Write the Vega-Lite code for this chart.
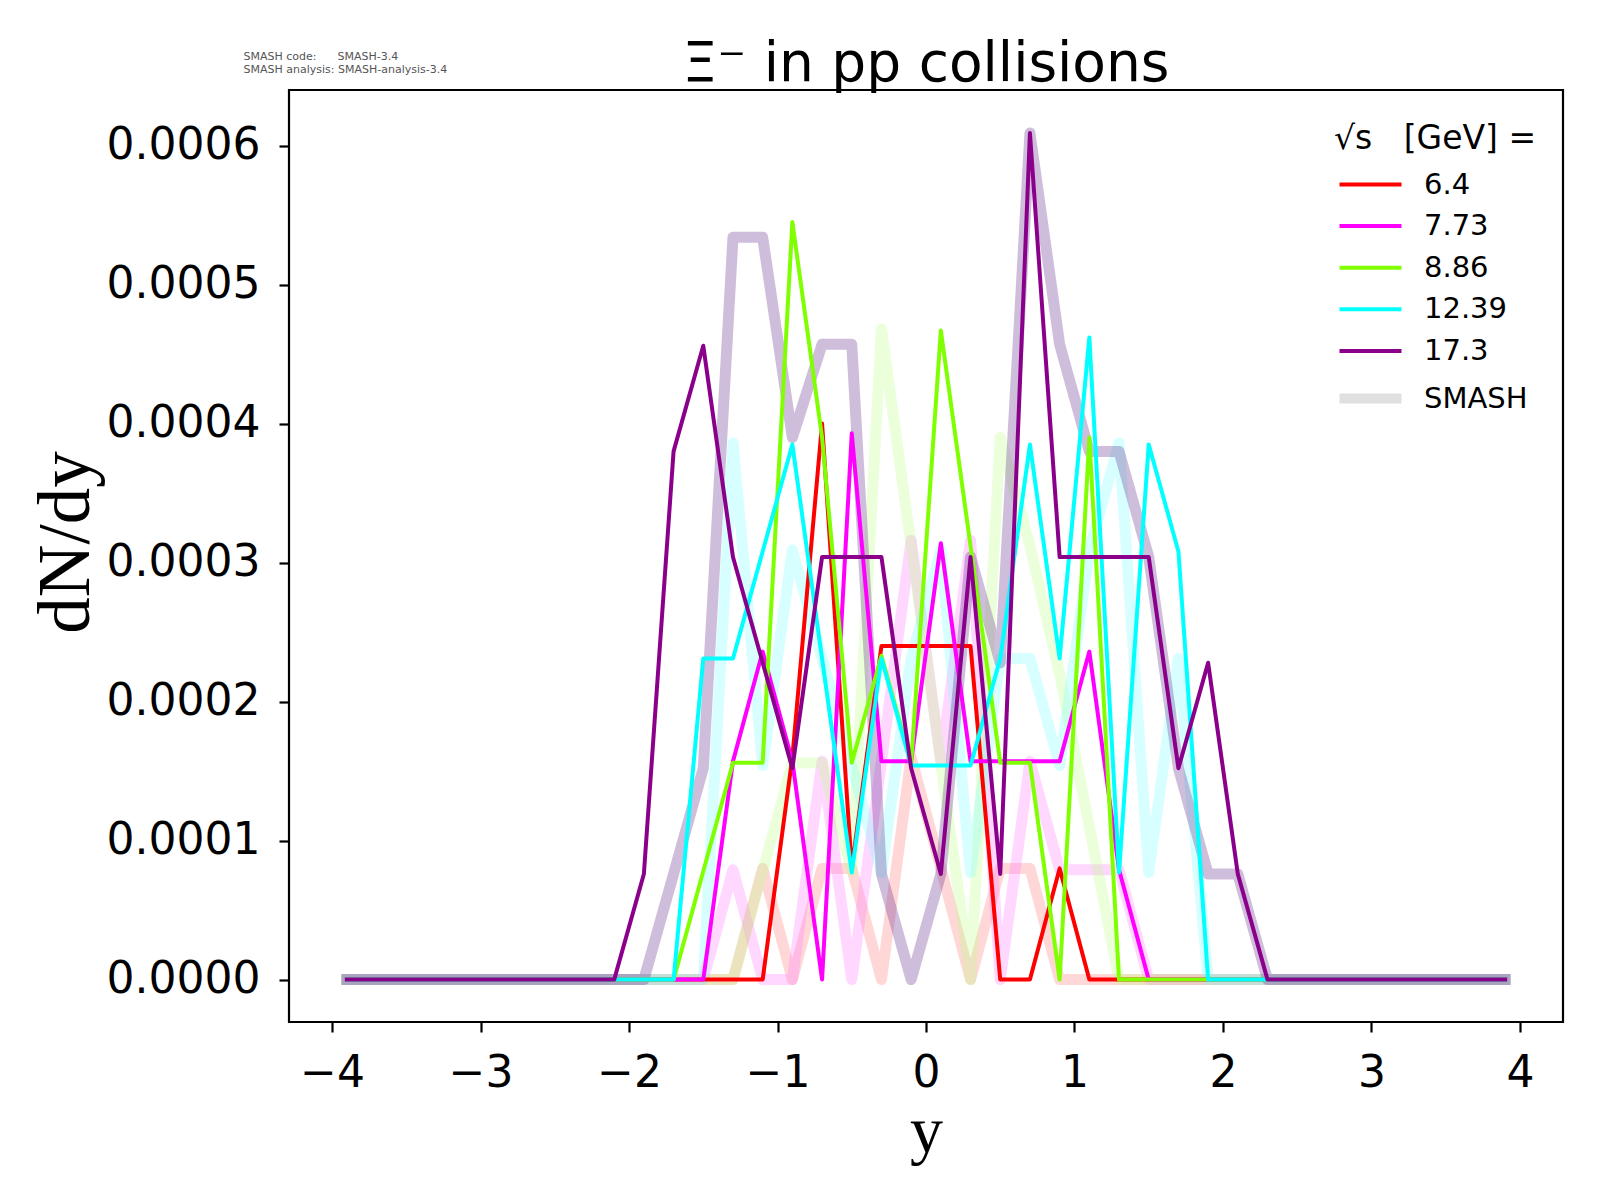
{
  "$schema": "https://vega.github.io/schema/vega-lite/v6.json",
  "width": 1274,
  "height": 932,
  "autosize": "none",
  "padding": {"left": 289, "top": 90, "right": 37, "bottom": 178},
  "background": "white",
  "title": {"text": "Ξ⁻ in pp collisions", "font": "DejaVu Sans", "fontSize": 55, "fontWeight": "normal", "color": "black", "offset": -43},
  "data": {
    "values": [
      {"rap": -3.9, "E6_4": 0, "E7_73": 0, "E8_86": 0, "E12_39": 0, "E17_3": 0, "S6_4": 0, "S7_73": 0, "S8_86": 0, "S12_39": 0, "S17_3": 0},
      {"rap": -3.7, "E6_4": 0, "E7_73": 0, "E8_86": 0, "E12_39": 0, "E17_3": 0, "S6_4": 0, "S7_73": 0, "S8_86": 0, "S12_39": 0, "S17_3": 0},
      {"rap": -3.5, "E6_4": 0, "E7_73": 0, "E8_86": 0, "E12_39": 0, "E17_3": 0, "S6_4": 0, "S7_73": 0, "S8_86": 0, "S12_39": 0, "S17_3": 0},
      {"rap": -3.3, "E6_4": 0, "E7_73": 0, "E8_86": 0, "E12_39": 0, "E17_3": 0, "S6_4": 0, "S7_73": 0, "S8_86": 0, "S12_39": 0, "S17_3": 0},
      {"rap": -3.1, "E6_4": 0, "E7_73": 0, "E8_86": 0, "E12_39": 0, "E17_3": 0, "S6_4": 0, "S7_73": 0, "S8_86": 0, "S12_39": 0, "S17_3": 0},
      {"rap": -2.9, "E6_4": 0, "E7_73": 0, "E8_86": 0, "E12_39": 0, "E17_3": 0, "S6_4": 0, "S7_73": 0, "S8_86": 0, "S12_39": 0, "S17_3": 0},
      {"rap": -2.7, "E6_4": 0, "E7_73": 0, "E8_86": 0, "E12_39": 0, "E17_3": 0, "S6_4": 0, "S7_73": 0, "S8_86": 0, "S12_39": 0, "S17_3": 0},
      {"rap": -2.5, "E6_4": 0, "E7_73": 0, "E8_86": 0, "E12_39": 0, "E17_3": 0, "S6_4": 0, "S7_73": 0, "S8_86": 0, "S12_39": 0, "S17_3": 0},
      {"rap": -2.3, "E6_4": 0, "E7_73": 0, "E8_86": 0, "E12_39": 0, "E17_3": 0, "S6_4": 0, "S7_73": 0, "S8_86": 0, "S12_39": 0, "S17_3": 0},
      {"rap": -2.1, "E6_4": 0, "E7_73": 0, "E8_86": 0, "E12_39": 0, "E17_3": 0, "S6_4": 0, "S7_73": 0, "S8_86": 0, "S12_39": 0, "S17_3": 0},
      {"rap": -1.9, "E6_4": 0, "E7_73": 0, "E8_86": 0, "E12_39": 0, "E17_3": 0.000076, "S6_4": 0, "S7_73": 0, "S8_86": 0, "S12_39": 0, "S17_3": 0},
      {"rap": -1.7, "E6_4": 0, "E7_73": 0, "E8_86": 0, "E12_39": 0, "E17_3": 0.00038, "S6_4": 0, "S7_73": 0, "S8_86": 0, "S12_39": 0, "S17_3": 0.000076},
      {"rap": -1.5, "E6_4": 0, "E7_73": 0, "E8_86": 0.000078, "E12_39": 0.000231, "E17_3": 0.000456, "S6_4": 0, "S7_73": 0, "S8_86": 0, "S12_39": 0, "S17_3": 0.000152},
      {"rap": -1.3, "E6_4": 0, "E7_73": 0.000157, "E8_86": 0.000156, "E12_39": 0.000231, "E17_3": 0.000304, "S6_4": 0, "S7_73": 0.000079, "S8_86": 0, "S12_39": 0.000386, "S17_3": 0.000534},
      {"rap": -1.1, "E6_4": 0, "E7_73": 0.000236, "E8_86": 0.000156, "E12_39": 0.000308, "E17_3": 0.000228, "S6_4": 0.00008, "S7_73": 0, "S8_86": 0.000078, "S12_39": 0.000154, "S17_3": 0.000534},
      {"rap": -0.9, "E6_4": 0.00016, "E7_73": 0.000157, "E8_86": 0.000545, "E12_39": 0.000385, "E17_3": 0.000152, "S6_4": 0, "S7_73": 0, "S8_86": 0.000156, "S12_39": 0.000309, "S17_3": 0.00039},
      {"rap": -0.7, "E6_4": 0.0004, "E7_73": 0, "E8_86": 0.00039, "E12_39": 0.000231, "E17_3": 0.000304, "S6_4": 0.00008, "S7_73": 0.000157, "S8_86": 0.000156, "S12_39": 0.000231, "S17_3": 0.000457},
      {"rap": -0.5, "E6_4": 0.00008, "E7_73": 0.000393, "E8_86": 0.000156, "E12_39": 0.000077, "E17_3": 0.000304, "S6_4": 0.00008, "S7_73": 0, "S8_86": 0.000078, "S12_39": 0.000154, "S17_3": 0.000457},
      {"rap": -0.3, "E6_4": 0.00024, "E7_73": 0.000157, "E8_86": 0.000233, "E12_39": 0.000231, "E17_3": 0.000304, "S6_4": 0, "S7_73": 0.000157, "S8_86": 0.000468, "S12_39": 0.000077, "S17_3": 0.000076},
      {"rap": -0.1, "E6_4": 0.00024, "E7_73": 0.000157, "E8_86": 0.000156, "E12_39": 0.000154, "E17_3": 0.000152, "S6_4": 0.00016, "S7_73": 0.000316, "S8_86": 0.000312, "S12_39": 0.000231, "S17_3": 0},
      {"rap": 0.1, "E6_4": 0.00024, "E7_73": 0.000314, "E8_86": 0.000467, "E12_39": 0.000154, "E17_3": 0.000076, "S6_4": 0.00008, "S7_73": 0.000157, "S8_86": 0.000156, "S12_39": 0.000309, "S17_3": 0.000076},
      {"rap": 0.3, "E6_4": 0.00024, "E7_73": 0.000157, "E8_86": 0.000312, "E12_39": 0.000154, "E17_3": 0.000304, "S6_4": 0, "S7_73": 0.000316, "S8_86": 0, "S12_39": 0.000077, "S17_3": 0.000304},
      {"rap": 0.5, "E6_4": 0, "E7_73": 0.000157, "E8_86": 0.000156, "E12_39": 0.000231, "E17_3": 0.000076, "S6_4": 0.00008, "S7_73": 0, "S8_86": 0.00039, "S12_39": 0.000231, "S17_3": 0.000228},
      {"rap": 0.7, "E6_4": 0, "E7_73": 0.000157, "E8_86": 0.000156, "E12_39": 0.000385, "E17_3": 0.000609, "S6_4": 0.00008, "S7_73": 0.000157, "S8_86": 0.000312, "S12_39": 0.000231, "S17_3": 0.000609},
      {"rap": 0.9, "E6_4": 0.00008, "E7_73": 0.000157, "E8_86": 0, "E12_39": 0.000231, "E17_3": 0.000304, "S6_4": 0, "S7_73": 0.000079, "S8_86": 0.00022, "S12_39": 0.000154, "S17_3": 0.000457},
      {"rap": 1.1, "E6_4": 0, "E7_73": 0.000236, "E8_86": 0.00039, "E12_39": 0.000462, "E17_3": 0.000304, "S6_4": 0, "S7_73": 0.000079, "S8_86": 0.00011, "S12_39": 0.000309, "S17_3": 0.00038},
      {"rap": 1.3, "E6_4": 0, "E7_73": 0.000079, "E8_86": 0, "E12_39": 0.000077, "E17_3": 0.000304, "S6_4": 0, "S7_73": 0.000079, "S8_86": 0, "S12_39": 0.000386, "S17_3": 0.00038},
      {"rap": 1.5, "E6_4": 0, "E7_73": 0, "E8_86": 0, "E12_39": 0.000385, "E17_3": 0.000304, "S6_4": 0, "S7_73": 0, "S8_86": 0, "S12_39": 0.000077, "S17_3": 0.000304},
      {"rap": 1.7, "E6_4": 0, "E7_73": 0, "E8_86": 0, "E12_39": 0.000308, "E17_3": 0.000152, "S6_4": 0, "S7_73": 0, "S8_86": 0, "S12_39": 0.000231, "S17_3": 0.000152},
      {"rap": 1.9, "E6_4": 0, "E7_73": 0, "E8_86": 0, "E12_39": 0, "E17_3": 0.000228, "S6_4": 0, "S7_73": 0, "S8_86": 0, "S12_39": 0, "S17_3": 0.000076},
      {"rap": 2.1, "E6_4": 0, "E7_73": 0, "E8_86": 0, "E12_39": 0, "E17_3": 0.000076, "S6_4": 0, "S7_73": 0, "S8_86": 0, "S12_39": 0, "S17_3": 0.000076},
      {"rap": 2.3, "E6_4": 0, "E7_73": 0, "E8_86": 0, "E12_39": 0, "E17_3": 0, "S6_4": 0, "S7_73": 0, "S8_86": 0, "S12_39": 0, "S17_3": 0},
      {"rap": 2.5, "E6_4": 0, "E7_73": 0, "E8_86": 0, "E12_39": 0, "E17_3": 0, "S6_4": 0, "S7_73": 0, "S8_86": 0, "S12_39": 0, "S17_3": 0},
      {"rap": 2.7, "E6_4": 0, "E7_73": 0, "E8_86": 0, "E12_39": 0, "E17_3": 0, "S6_4": 0, "S7_73": 0, "S8_86": 0, "S12_39": 0, "S17_3": 0},
      {"rap": 2.9, "E6_4": 0, "E7_73": 0, "E8_86": 0, "E12_39": 0, "E17_3": 0, "S6_4": 0, "S7_73": 0, "S8_86": 0, "S12_39": 0, "S17_3": 0},
      {"rap": 3.1, "E6_4": 0, "E7_73": 0, "E8_86": 0, "E12_39": 0, "E17_3": 0, "S6_4": 0, "S7_73": 0, "S8_86": 0, "S12_39": 0, "S17_3": 0},
      {"rap": 3.3, "E6_4": 0, "E7_73": 0, "E8_86": 0, "E12_39": 0, "E17_3": 0, "S6_4": 0, "S7_73": 0, "S8_86": 0, "S12_39": 0, "S17_3": 0},
      {"rap": 3.5, "E6_4": 0, "E7_73": 0, "E8_86": 0, "E12_39": 0, "E17_3": 0, "S6_4": 0, "S7_73": 0, "S8_86": 0, "S12_39": 0, "S17_3": 0},
      {"rap": 3.7, "E6_4": 0, "E7_73": 0, "E8_86": 0, "E12_39": 0, "E17_3": 0, "S6_4": 0, "S7_73": 0, "S8_86": 0, "S12_39": 0, "S17_3": 0},
      {"rap": 3.9, "E6_4": 0, "E7_73": 0, "E8_86": 0, "E12_39": 0, "E17_3": 0, "S6_4": 0, "S7_73": 0, "S8_86": 0, "S12_39": 0, "S17_3": 0}
    ]
  },
  "layer": [
    {
      "transform": [{"fold": ["S6_4", "S7_73", "S8_86", "S12_39", "S17_3"], "as": ["run", "dndy"]}],
      "mark": {"type": "line", "strokeWidth": 11, "opacity": 0.3, "strokeJoin": "round", "strokeCap": "square"},
      "encoding": {
        "x": {"field": "rap", "type": "quantitative", "scale": {"domain": [-4.29, 4.29], "nice": false, "zero": false}, "axis": null},
        "y": {"field": "dndy", "type": "quantitative", "scale": {"domain": [-0.0000305, 0.00064], "nice": false, "zero": false},
              "axis": {"title": "dN/dy", "values": [0, 0.0001, 0.0002, 0.0003, 0.0004, 0.0005, 0.0006], "format": ".4f", "labelPadding": 19, "titlePadding": 3, "titleFontSize": 73, "titleY": 452}},
        "stroke": {"field": "run", "type": "nominal", "legend": null,
                   "scale": {"domain": ["S6_4", "S7_73", "S8_86", "S12_39", "S17_3"], "range": ["#ff7a7a", "#ff7aff", "#bcff84", "#7affff", "#5f268a"]}}
      }
    },
    {
      "transform": [{"fold": ["E6_4", "E7_73", "E8_86", "E12_39", "E17_3"], "as": ["run", "dndy"]}],
      "mark": {"type": "line", "strokeWidth": 4, "strokeJoin": "round", "strokeCap": "square"},
      "encoding": {
        "x": {"field": "rap", "type": "quantitative", "scale": {"domain": [-4.29, 4.29], "nice": false, "zero": false},
              "axis": {"title": "y", "values": [-4, -3, -2, -1, 0, 1, 2, 3, 4], "format": "d", "labelPadding": 19, "titlePadding": 4}},
        "y": {"field": "dndy", "type": "quantitative",
              "axis": {"title": "dN/dy", "values": [0, 0.0001, 0.0002, 0.0003, 0.0004, 0.0005, 0.0006], "format": ".4f", "labelPadding": 19, "titlePadding": 3, "titleFontSize": 73, "titleY": 452}},
        "color": {"field": "run", "type": "nominal",
                  "scale": {"domain": ["E6_4", "E7_73", "E8_86", "E12_39", "E17_3", "SMASH"], "range": ["#ff0000", "#ff00ff", "#7fff00", "#00ffff", "#8b008b", "#e0e0e0"]},
                  "legend": {
                    "title": "√s\u00a0\u00a0\u00a0[GeV] =",
                    "orient": "none",
                    "legendX": 1045,
                    "legendY": 33,
                    "padding": 0,
                    "symbolType": "stroke",
                    "symbolSize": 3844,
                    "symbolStrokeWidth": 4,
                    "symbolOpacity": 1,
                    "symbolOffset": 22,
                    "labelOffset": 39,
                    "labelFont": "DejaVu Sans",
                    "labelFontSize": 29,
                    "labelColor": "black",
                    "titleFont": "DejaVu Sans",
                    "titleFontSize": 33,
                    "titleFontWeight": "normal",
                    "titleColor": "black",
                    "titleLimit": 500,
                    "titlePadding": 14,
                    "rowPadding": 11.6,
                    "labelExpr": "datum.label == 'SMASH' ? 'SMASH' : replace(replace(datum.label, 'E', ''), '_', '.')",
                    "encode": {"symbols": {"update": {"strokeWidth": {"signal": "datum.value === 'SMASH' ? 10 : 4"}}}}
                  }}
      }
    },
    {
      "mark": {"type": "rule", "opacity": 0},
      "encoding": {
        "x": {"datum": 0, "type": "quantitative",
              "axis": {"orient": "top", "labels": false, "ticks": false, "domain": false, "grid": false,
                       "title": ["SMASH code:\u00a0\u00a0\u00a0\u00a0\u00a0\u00a0SMASH-3.4", "SMASH analysis: SMASH-analysis-3.4"],
                       "titleFont": "DejaVu Sans", "titleFontSize": 11, "titleFontWeight": "normal", "titleColor": "#555555",
                       "titleAnchor": "start", "titleAlign": "left", "titleBaseline": "top", "titleAngle": 0,
                       "titleX": -46, "titleY": -40, "titleLineHeight": 13}}
      }
    }
  ],
  "resolve": {"axis": {"x": "independent"}},
  "config": {
    "view": {"stroke": "black", "strokeWidth": 2.2},
    "axis": {
      "grid": false, "domain": false,
      "labelFont": "DejaVu Sans", "labelFontSize": 44, "labelColor": "black",
      "tickColor": "black", "tickWidth": 2.2, "tickSize": 10,
      "titleFont": "Liberation Serif", "titleFontSize": 66, "titleFontWeight": "normal", "titleColor": "black"
    }
  }
}
